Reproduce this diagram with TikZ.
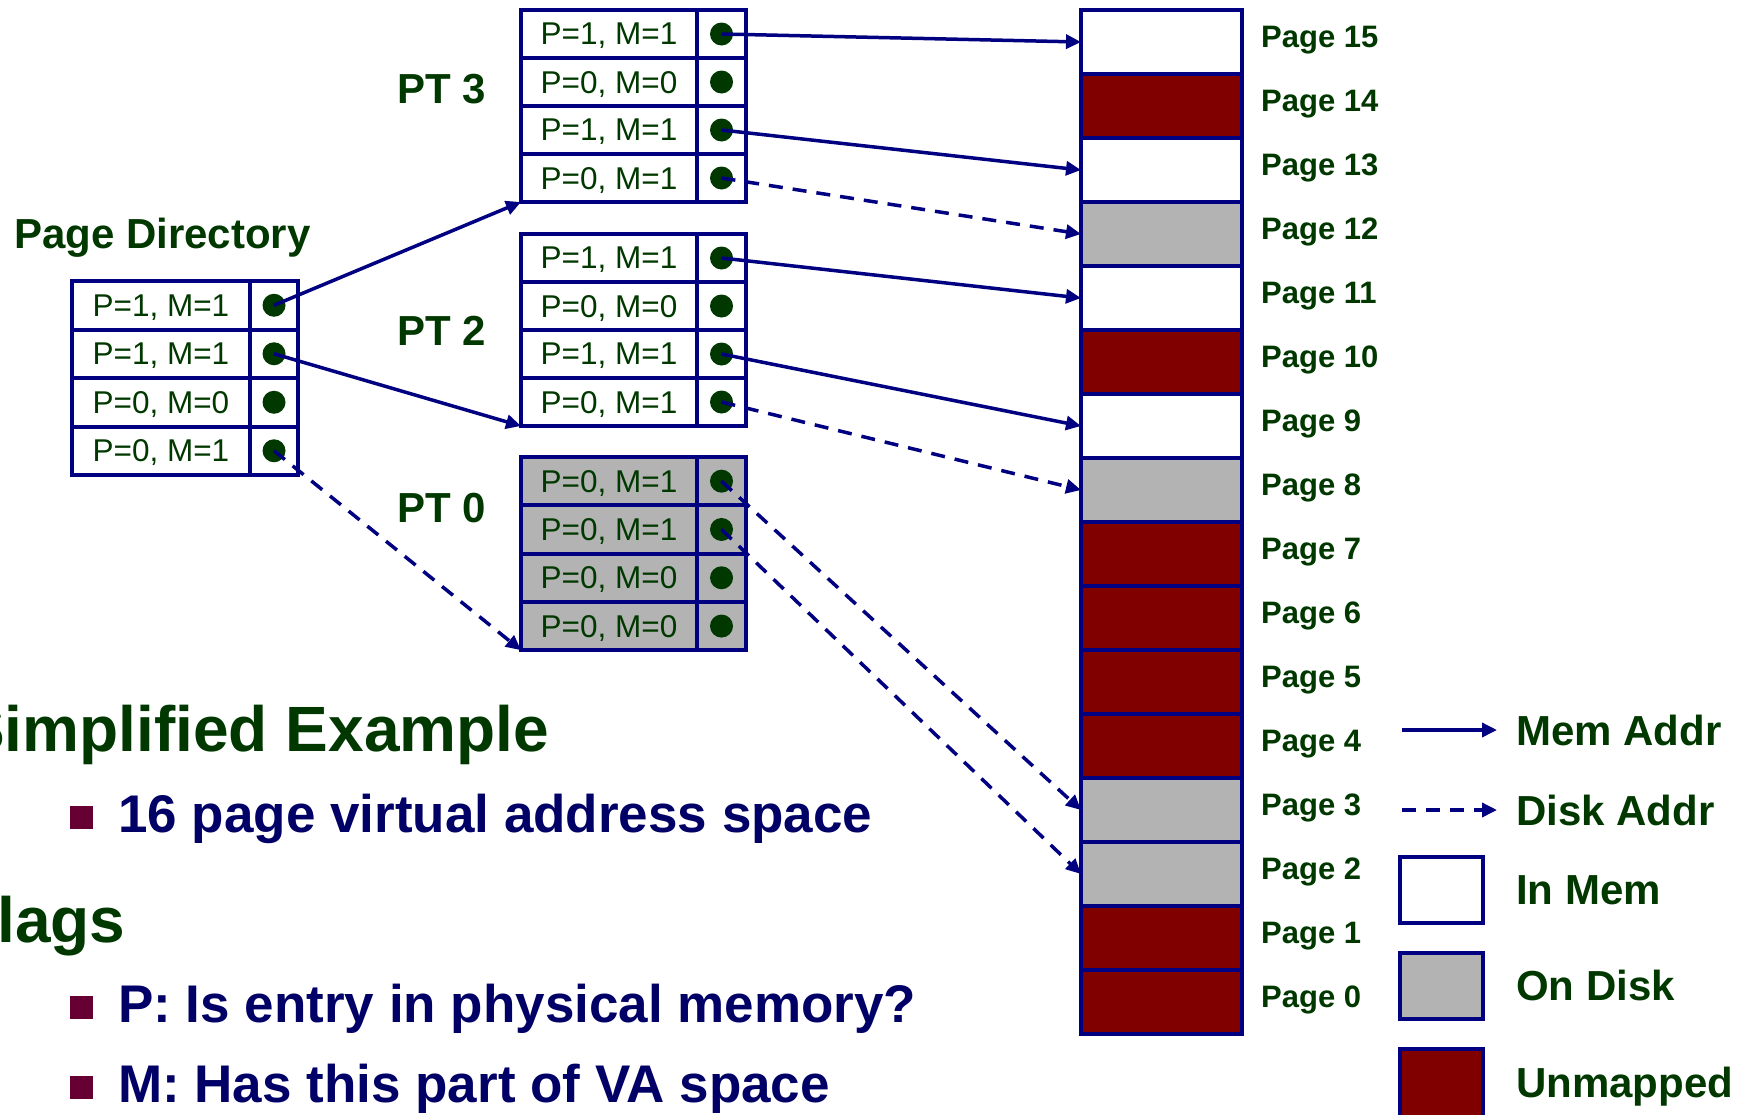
\documentclass[tikz,border=0pt]{standalone}
\usepackage{fontspec}
\setmainfont{Liberation Sans}
\usetikzlibrary{arrows.meta}
\definecolor{navy}{RGB}{0,0,128}
\definecolor{dgreen}{RGB}{0,56,0}
\definecolor{unmapped}{RGB}{128,0,0}
\definecolor{ondisk}{RGB}{179,179,179}
\definecolor{bullettext}{RGB}{0,0,102}
\definecolor{bulletsq}{RGB}{102,0,51}
\newcommand\fs[1]{\fontsize{#1}{#1}\selectfont}
\tikzset{
  cell/.style={draw=navy, line width=4pt, inner sep=0pt, outer sep=0pt, font=\fs{31.5}, text=dgreen, text depth=0pt},
  txtcell/.style={cell, minimum width=176pt, minimum height=48pt},
  ptrcell/.style={cell, minimum width=49pt, minimum height=48pt},
  dotn/.style={circle, fill=dgreen, minimum size=23pt, inner sep=0pt},
  pagebox/.style={draw=navy, line width=4pt, minimum width=161pt, minimum height=64pt, inner sep=0pt, outer sep=0pt},
  pagelbl/.style={anchor=base west, inner sep=0pt, font=\bfseries\fs{31}, text=dgreen},
  biglbl/.style={anchor=base west, inner sep=0pt, font=\bfseries\fs{42}, text=dgreen},
  memarrow/.style={draw=navy, line width=3.5pt, -{Triangle[length=15pt,width=14pt]}},
  diskarrow/.style={memarrow, dash pattern=on 14pt off 10pt},
  legbox/.style={draw=navy, line width=4pt, minimum width=83pt, minimum height=66pt, inner sep=0pt, outer sep=0pt, anchor=north west},
  bsq/.style={fill=bulletsq, minimum size=22.5pt, inner sep=0pt, anchor=south west},
  btext/.style={anchor=base west, inner sep=0pt, font=\bfseries\fs{53}, text=bullettext},
  titletext/.style={anchor=base west, inner sep=0pt, font=\bfseries\fs{64}, text=dgreen}
}
\begin{document}
\begin{tikzpicture}[x=1pt,y=-1pt]
\useasboundingbox (0,0) rectangle (1745,1114);

% ---------- Page Directory ----------
\node[biglbl] (pdlbl) at (14,248) {Page Directory};
\foreach \r/\t in {0/{P=1, M=1},1/{P=1, M=1},2/{P=0, M=0},3/{P=0, M=1}}{
  \node[txtcell, minimum width=178pt, minimum height=48.5pt, anchor=north west] (pdt\r) at (72,281+\r*48.5) {\t};
  \node[ptrcell, minimum width=48pt, minimum height=48.5pt, anchor=north west] (pdp\r) at (250,281+\r*48.5) {};
  \node[dotn] (pdc\r) at (pdp\r.center) {};
}

% ---------- PT 3 ----------
\node[biglbl] (pt3lbl) at (397,103) {PT 3};
\foreach \r/\t in {0/{P=1, M=1},1/{P=0, M=0},2/{P=1, M=1},3/{P=0, M=1}}{
  \node[txtcell, anchor=north west] (pt3t\r) at (521,10+\r*48) {\t};
  \node[ptrcell, anchor=north west] (pt3p\r) at (697,10+\r*48) {};
  \node[dotn] (pt3c\r) at (pt3p\r.center) {};
}

% ---------- PT 2 ----------
\node[biglbl] (pt2lbl) at (397,345) {PT 2};
\foreach \r/\t in {0/{P=1, M=1},1/{P=0, M=0},2/{P=1, M=1},3/{P=0, M=1}}{
  \node[txtcell, anchor=north west] (pt2t\r) at (521,234+\r*48) {\t};
  \node[ptrcell, anchor=north west] (pt2p\r) at (697,234+\r*48) {};
  \node[dotn] (pt2c\r) at (pt2p\r.center) {};
}

% ---------- PT 0 ----------
\node[biglbl] (pt0lbl) at (397,522) {PT 0};
\foreach \r/\t in {0/{P=0, M=1},1/{P=0, M=1},2/{P=0, M=0},3/{P=0, M=0}}{
  \node[txtcell, fill=ondisk, minimum height=48.3pt, anchor=north west] (pt0t\r) at (521,457+\r*48.3) {\t};
  \node[ptrcell, fill=ondisk, minimum height=48.3pt, anchor=north west] (pt0p\r) at (697,457+\r*48.3) {};
  \node[dotn] (pt0c\r) at (pt0p\r.center) {};
}

% ---------- Pages ----------
\foreach \i/\c in {15/white,14/unmapped,13/white,12/ondisk,11/white,10/unmapped,9/white,8/ondisk,7/unmapped,6/unmapped,5/unmapped,4/unmapped,3/ondisk,2/ondisk,1/unmapped,0/unmapped}{
  \node[pagebox, fill=\c, anchor=north west] (pg\i) at (1081,10+15*64-\i*64) {};
  \node[pagelbl] (pgl\i) at (1261,47+15*64-\i*64) {Page \i};
}

% ---------- Connectors ----------
\draw[memarrow] (pdc0.center) -- (pt3t3.south west);
\draw[memarrow] (pdc1.center) -- (pt2t3.south west);
\draw[diskarrow] (pdc3.center) -- (pt0t3.south west);

\draw[memarrow] (pt3c0.center) -- (pg15.west);
\draw[memarrow] (pt3c2.center) -- (pg13.west);
\draw[diskarrow] (pt3c3.center) -- (pg12.west);

\draw[memarrow] (pt2c0.center) -- (pg11.west);
\draw[memarrow] (pt2c2.center) -- (pg9.west);
\draw[diskarrow] (pt2c3.center) -- (pg8.west);

\draw[diskarrow] (pt0c0.center) -- (pg3.west);
\draw[diskarrow] (pt0c1.center) -- (pg2.west);

% ---------- Legend ----------
\coordinate (lma) at (1402,730);
\coordinate (lmb) at (1497,730);
\coordinate (lda) at (1402,810);
\coordinate (ldb) at (1497,810);
\draw[memarrow] (lma) -- (lmb);
\draw[diskarrow] (lda) -- (ldb);
\node[legbox, fill=white] (lgin) at (1400,857) {};
\node[legbox, fill=ondisk] (lgdisk) at (1400,953) {};
\node[legbox, fill=unmapped, minimum height=68pt] (lgun) at (1400,1049) {};
\node[biglbl] (lgt1) at (1516,745) {Mem Addr};
\node[biglbl] (lgt2) at (1516,825) {Disk Addr};
\node[biglbl] (lgt3) at (1516,904) {In Mem};
\node[biglbl] (lgt4) at (1516,1000) {On Disk};
\node[biglbl] (lgt5) at (1516,1097) {Unmapped};

% ---------- Bottom text ----------
\node[titletext] (ttl1) at (-38,751) {Simplified Example};
\node[titletext] (ttl2) at (-42,942) {Flags};
\node[bsq] (bs1) at (70,829) {};
\node[btext] (bt1) at (118,832) {16 page virtual address space};
\node[bsq] (bs2) at (70,1019) {};
\node[btext] (bt2) at (118,1022) {P: Is entry in physical memory?};
\node[bsq] (bs3) at (70,1099) {};
\node[btext] (bt3) at (118,1102) {M: Has this part of VA space};
\end{tikzpicture}
\end{document}
